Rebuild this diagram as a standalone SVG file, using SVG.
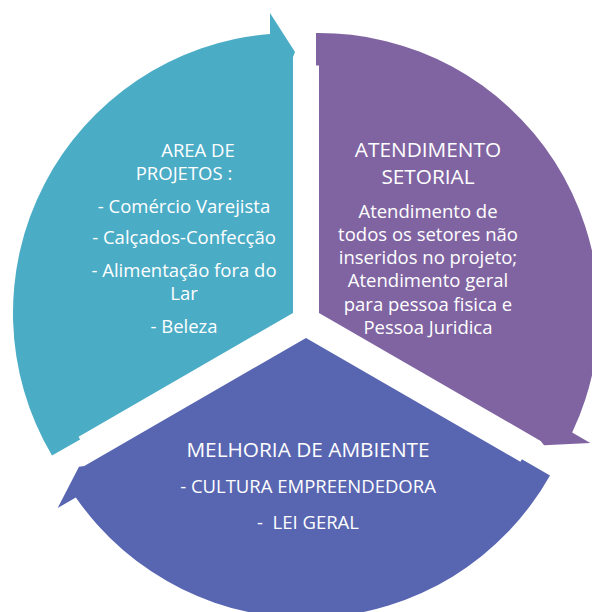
<svg xmlns="http://www.w3.org/2000/svg" width="592" height="612" viewBox="0 0 592 612">
<style>
.t{font-family:"Open Sans","Noto Sans",sans-serif;fill:#ffffff;text-anchor:middle;white-space:pre}
.h{font-size:20.8px}
.b{font-size:18.5px}
</style>
<defs>
<path id="wedge" d="M0,0 L-214.4,123.8 L-212.9,126.4 L-241,142.6 A280,280 0 0 1 -23,-279.05 L-23,-300 L2,-261 L0,-256 Z"/>
</defs>
<rect width="592" height="612" fill="#ffffff"/>
<g id="connectors"></g>
<g id="node-projetos">
<use href="#wedge" transform="translate(293,313)" fill="#4BACC6"/>
<text class="t b" x="198" y="157.3">AREA DE</text>
<text class="t b" x="184" y="180">PROJETOS :</text>
<text class="t b" x="184" y="212.7">- Comércio Varejista</text>
<text class="t b" x="184" y="244">- Calçados-Confecção</text>
<text class="t b" x="184" y="277.3">- Alimentação fora do</text>
<text class="t b" x="184" y="300">Lar</text>
<text class="t b" x="184" y="333.3">- Beleza</text>
</g>
<g id="node-atendimento">
<use href="#wedge" transform="translate(319,313) rotate(120)" fill="#8064A2"/>
<text class="t h" x="428" y="156.7">ATENDIMENTO</text>
<text class="t h" x="428" y="184.3">SETORIAL</text>
<text class="t b" x="428" y="217.5">Atendimento de</text>
<text class="t b" x="428" y="240.8">todos os setores não</text>
<text class="t b" x="428" y="264">inseridos no projeto;</text>
<text class="t b" x="428" y="287.3">Atendimento geral</text>
<text class="t b" x="428" y="310.6">para pessoa fisica e</text>
<text class="t b" x="428" y="334">Pessoa Juridica</text>
</g>
<g id="node-melhoria">
<use href="#wedge" transform="translate(306,338) rotate(240)" fill="#5866B2"/>
<text class="t h" x="308" y="456.7">MELHORIA DE AMBIENTE</text>
<text class="t b" x="308" y="493.3">- CULTURA EMPREENDEDORA</text>
<text class="t b" x="308" y="529">-  LEI GERAL</text>
</g>
</svg>
